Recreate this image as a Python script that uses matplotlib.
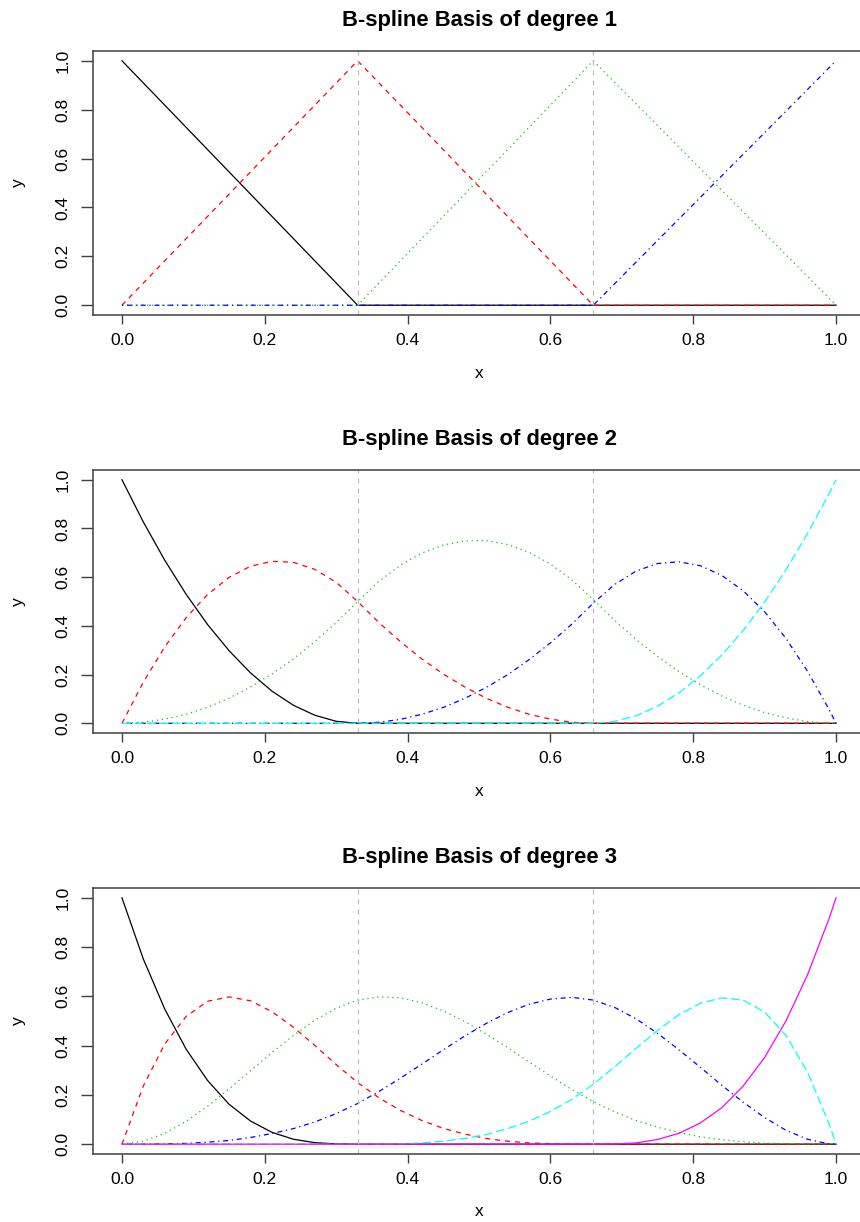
import matplotlib
matplotlib.use('Agg')
import matplotlib.pyplot as plt

plt.rcParams['font.family'] = ['Liberation Sans', 'DejaVu Sans']

# --- Data ---
knots = [0.33, 0.66]
x_ticks = [0.0, 0.2, 0.4, 0.6, 0.8, 1.0]
y_ticks = [0.0, 0.2, 0.4, 0.6, 0.8, 1.0]
titles = ['B-spline Basis of degree 1', 'B-spline Basis of degree 2', 'B-spline Basis of degree 3']

# degree 1: straight pieces between knots
x_deg1 = [0.00, 0.33, 0.66, 1.00]
deg1_black = [1.0, 0.0, 0.0, 0.0]
deg1_red = [0.0, 1.0, 0.0, 0.0]
deg1_green = [0.0, 0.0, 1.0, 0.0]
deg1_blue = [0.0, 0.0, 0.0, 1.0]

# degree 2 and 3: sampled curves
x_grid = [0.00, 0.03, 0.06, 0.09, 0.12, 0.15, 0.18, 0.21, 0.24, 0.27, 0.30, 0.33,
          0.36, 0.39, 0.42, 0.45, 0.48, 0.51, 0.54, 0.57, 0.60, 0.63, 0.66,
          0.69, 0.72, 0.75, 0.78, 0.81, 0.84, 0.87, 0.90, 0.93, 0.96, 0.99, 1.00]

deg2_black = [1.000, 0.826, 0.669, 0.529, 0.405, 0.298, 0.207, 0.132, 0.074, 0.033, 0.008, 0.000,
              0.000, 0.000, 0.000, 0.000, 0.000, 0.000, 0.000, 0.000, 0.000, 0.000, 0.000,
              0.000, 0.000, 0.000, 0.000, 0.000, 0.000, 0.000, 0.000, 0.000, 0.000, 0.000, 0.000]
deg2_red = [0.000, 0.169, 0.314, 0.434, 0.529, 0.599, 0.645, 0.665, 0.661, 0.632, 0.579, 0.500,
            0.413, 0.335, 0.264, 0.202, 0.149, 0.103, 0.066, 0.037, 0.017, 0.004, 0.000,
            0.000, 0.000, 0.000, 0.000, 0.000, 0.000, 0.000, 0.000, 0.000, 0.000, 0.000, 0.000]
deg2_green = [0.000, 0.004, 0.017, 0.037, 0.066, 0.103, 0.149, 0.202, 0.264, 0.335, 0.413, 0.500,
              0.583, 0.649, 0.699, 0.732, 0.749, 0.750, 0.734, 0.702, 0.654, 0.589, 0.507,
              0.422, 0.344, 0.274, 0.212, 0.158, 0.112, 0.074, 0.044, 0.022, 0.007, 0.000, 0.000]
deg2_blue = [0.000, 0.000, 0.000, 0.000, 0.000, 0.000, 0.000, 0.000, 0.000, 0.000, 0.000, 0.000,
             0.004, 0.016, 0.037, 0.065, 0.102, 0.147, 0.199, 0.261, 0.330, 0.407, 0.493,
             0.570, 0.625, 0.656, 0.663, 0.647, 0.607, 0.544, 0.458, 0.348, 0.214, 0.058, 0.000]
deg2_cyan = [0.000, 0.000, 0.000, 0.000, 0.000, 0.000, 0.000, 0.000, 0.000, 0.000, 0.000, 0.000,
             0.000, 0.000, 0.000, 0.000, 0.000, 0.000, 0.000, 0.000, 0.000, 0.000, 0.000,
             0.008, 0.031, 0.070, 0.125, 0.195, 0.280, 0.381, 0.498, 0.631, 0.779, 0.942, 1.000]

deg3_black = [1.000, 0.751, 0.548, 0.385, 0.258, 0.162, 0.094, 0.048, 0.020, 0.006, 0.001, 0.000,
              0.000, 0.000, 0.000, 0.000, 0.000, 0.000, 0.000, 0.000, 0.000, 0.000, 0.000,
              0.000, 0.000, 0.000, 0.000, 0.000, 0.000, 0.000, 0.000, 0.000, 0.000, 0.000, 0.000]
deg3_red = [0.000, 0.237, 0.407, 0.519, 0.580, 0.598, 0.582, 0.538, 0.475, 0.401, 0.323, 0.250,
            0.188, 0.137, 0.096, 0.064, 0.041, 0.023, 0.012, 0.005, 0.002, 0.000, 0.000,
            0.000, 0.000, 0.000, 0.000, 0.000, 0.000, 0.000, 0.000, 0.000, 0.000, 0.000, 0.000]
deg3_green = [0.000, 0.012, 0.044, 0.093, 0.154, 0.224, 0.298, 0.372, 0.441, 0.503, 0.552, 0.585,
              0.598, 0.594, 0.574, 0.541, 0.498, 0.447, 0.392, 0.334, 0.277, 0.222, 0.173,
              0.131, 0.096, 0.069, 0.047, 0.030, 0.018, 0.010, 0.004, 0.002, 0.000, 0.000, 0.000]
deg3_blue = [0.000, 0.000, 0.001, 0.003, 0.008, 0.015, 0.027, 0.043, 0.063, 0.090, 0.124, 0.165,
             0.214, 0.268, 0.325, 0.383, 0.439, 0.490, 0.534, 0.568, 0.589, 0.596, 0.585,
             0.555, 0.509, 0.450, 0.383, 0.312, 0.239, 0.170, 0.108, 0.056, 0.020, 0.001, 0.000]
deg3_cyan = [0.000, 0.000, 0.000, 0.000, 0.000, 0.000, 0.000, 0.000, 0.000, 0.000, 0.000, 0.000,
             0.000, 0.001, 0.005, 0.012, 0.023, 0.039, 0.063, 0.093, 0.133, 0.182, 0.243,
             0.314, 0.389, 0.462, 0.526, 0.572, 0.594, 0.585, 0.536, 0.441, 0.293, 0.084, 0.000]
deg3_magenta = [0.000, 0.000, 0.000, 0.000, 0.000, 0.000, 0.000, 0.000, 0.000, 0.000, 0.000, 0.000,
                0.000, 0.000, 0.000, 0.000, 0.000, 0.000, 0.000, 0.000, 0.000, 0.000, 0.000,
                0.001, 0.005, 0.019, 0.044, 0.086, 0.148, 0.236, 0.352, 0.501, 0.687, 0.914, 1.000]

panels = [
    (x_deg1, [deg1_black, deg1_red, deg1_green, deg1_blue]),
    (x_grid, [deg2_black, deg2_red, deg2_green, deg2_blue, deg2_cyan]),
    (x_grid, [deg3_black, deg3_red, deg3_green, deg3_blue, deg3_cyan, deg3_magenta]),
]

# --- Styles (R matplot look) ---
colors = ['black', '#FF0000', '#00CD00', '#0000FF', '#00FFFF', '#FF00FF']
styles = ['-', (0, (4, 4)), (0, (1, 3)), (0, (1, 3, 4, 3)), (0, (7, 3)), '-']
box_color = '#404040'

W, H = 860, 1222
left_px, right_px = 93.4, 864.6
boxes = [(51, 315), (470, 733), (888, 1154)]  # top, bottom in pixels

fig = plt.figure(figsize=(W / 100, H / 100), dpi=100)

for (xs, series), title, (top, bottom) in zip(panels, titles, boxes):
    ax = fig.add_axes([left_px / W, 1 - bottom / H, (right_px - left_px) / W, (bottom - top) / H])
    for ys, c, ls in zip(series, colors, styles):
        ax.plot(xs, ys, color=c, linestyle=ls, linewidth=0.9)
    for k in knots:
        ax.axvline(k, color='#BEBEBE', linestyle=(0, (4, 4)), linewidth=0.9)

    ax.set_xlim(-0.04, 1.04)
    ax.set_ylim(-0.04, 1.04)
    ax.set_xticks(x_ticks)
    ax.set_yticks(y_ticks)
    ax.set_xticklabels([f'{t:.1f}' for t in x_ticks])
    ax.set_yticklabels([f'{t:.1f}' for t in y_ticks])
    ax.tick_params(axis='x', direction='out', length=6.2, width=1.0, color=box_color,
                   labelsize=12.5, pad=6.5)
    ax.tick_params(axis='y', direction='out', length=8.3, width=1.0, color=box_color,
                   labelsize=12.5, pad=8, labelrotation=90)
    for lbl in ax.get_yticklabels():
        lbl.set_va('center')
    for sp in ax.spines.values():
        sp.set_color(box_color)
        sp.set_linewidth(1.1)

    h_px = bottom - top
    w_px = right_px - left_px
    ax.set_title(title, fontsize=15.8, fontweight='bold', pad=18)
    ax.text(0.5, -58 / h_px, 'x', transform=ax.transAxes, ha='center', va='center', fontsize=12.5)
    ax.text(-(left_px - 18) / w_px, 0.5, 'y', transform=ax.transAxes, ha='center', va='center',
            rotation=90, fontsize=12.5)

fig.savefig('out.png', dpi=100)
